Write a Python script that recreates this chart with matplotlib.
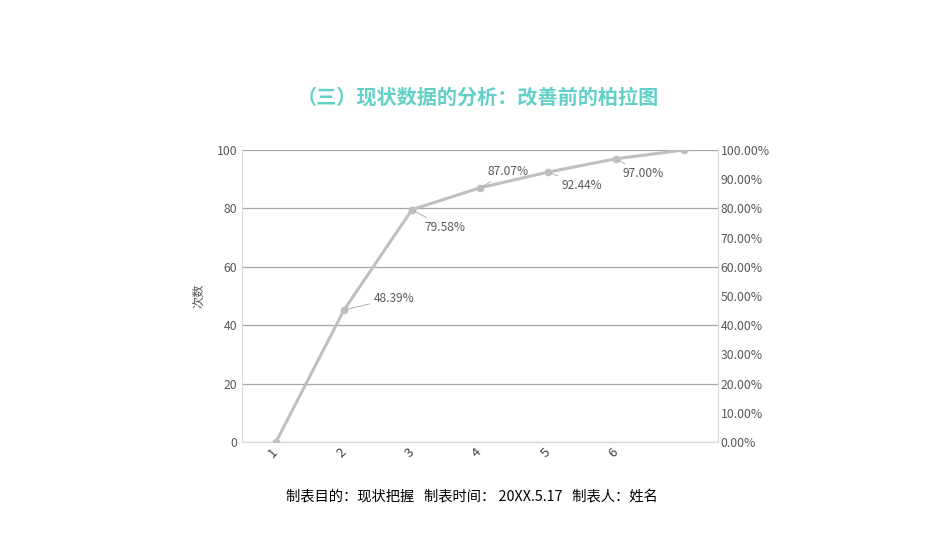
import matplotlib
matplotlib.use("Agg")
import matplotlib.pyplot as plt
from matplotlib.ticker import FuncFormatter

plt.rcParams['font.family'] = ['Noto Sans CJK SC', 'DejaVu Sans']

categories = ['1', '2', '3', '4', '5', '6', '']
cum_pct = [0.0, 45.2, 79.58, 87.07, 92.44, 97.0, 100.0]
pct_labels = ['', '48.39%', '79.58%', '87.07%', '92.44%', '97.00%', '']
left_ticks = [0, 20, 40, 60, 80, 100]
right_ticks = [0, 10, 20, 30, 40, 50, 60, 70, 80, 90, 100]
title = '（三）现状数据的分析：改善前的柏拉图'
footer = '制表目的：现状把握   制表时间： 20XX.5.17   制表人：姓名'
ylabel = '次数'

# label offsets in pixels (dx, dy) relative to point
label_offsets = [None, (30, 12), (12, -18), (8, 16), (14, -13), (6, -15)]

fig = plt.figure(figsize=(9.5, 5.35), dpi=100)
ax = fig.add_axes([0.2547, 0.1738, 0.5011, 0.5458])
ax2 = ax.twinx()

x = list(range(len(categories)))
ax.set_xlim(-0.5, len(categories) - 0.5)
ax.set_ylim(0, 100)
ax.set_yticks(left_ticks)
ax.grid(axis='y', color='#a6a6a6', lw=0.9)
ax.set_axisbelow(True)
ax.tick_params(axis='both', length=0, colors='#595959', labelsize=8.8)
ax.set_xticks(x)
ax.set_xticklabels(categories, rotation=45, ha='right', va='center',
                   rotation_mode='anchor', fontsize=9.5, color='#404040')
ax.tick_params(axis='x', pad=6)
ax.set_ylabel(ylabel, color='#595959', fontsize=8.8, labelpad=8)

ax.spines['top'].set_visible(False)
ax.spines['left'].set_color('#d9d9d9')
ax.spines['bottom'].set_color('#d9d9d9')
ax.spines['right'].set_color('#d9d9d9')
for s in ['top', 'left', 'bottom']:
    ax2.spines[s].set_visible(False)
ax2.spines['right'].set_color('#d9d9d9')

ax2.set_ylim(0, 100)
ax2.set_yticks(right_ticks)
ax2.yaxis.set_major_formatter(FuncFormatter(lambda v, p: f'{v:.2f}%'))
ax2.tick_params(axis='y', length=0, colors='#595959', labelsize=8.8, pad=2)

ax2.plot(x, cum_pct, color='#bfbfbf', lw=2.2, marker='o', ms=4.5, zorder=3)

for i, (v, lab) in enumerate(zip(cum_pct, pct_labels)):
    if not lab:
        continue
    dx, dy = label_offsets[i]
    ax2.annotate(lab, xy=(i, v), xytext=(dx, dy), textcoords='offset pixels',
                 ha='left', va='center', fontsize=8.6, color='#595959',
                 arrowprops=dict(arrowstyle='-', color='#a6a6a6', lw=0.6,
                                 shrinkA=1, shrinkB=2))

fig.text(0.5025, 0.8187, title, ha='center', va='center', fontsize=14.5,
         fontweight='bold', color='#62D0C6')
fig.text(0.4965, 0.071, footer, ha='center', va='center', fontsize=10.3, color='#000000')

fig.savefig('out.png', dpi=100)
